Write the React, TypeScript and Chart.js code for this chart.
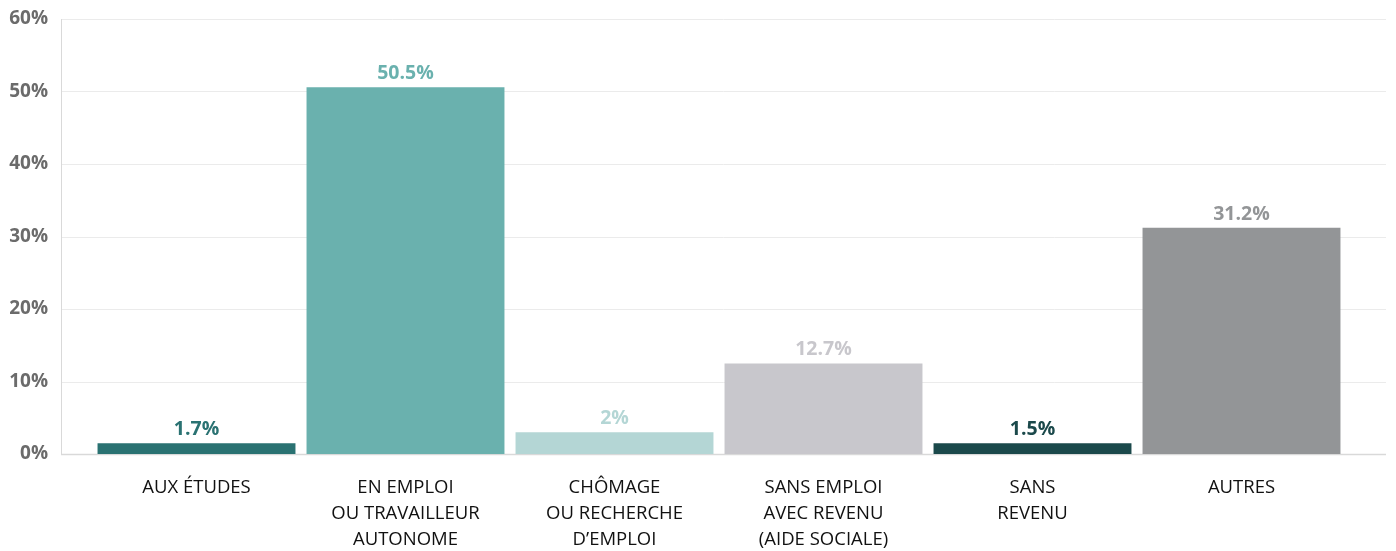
import React, { useEffect, useRef } from "react";
import { Chart, registerables } from "chart.js";

Chart.register(...registerables);

const categories: string[][] = [
  ["AUX ÉTUDES"],
  ["EN EMPLOI", "OU TRAVAILLEUR", "AUTONOME"],
  ["CHÔMAGE", "OU RECHERCHE", "D’EMPLOI"],
  ["SANS EMPLOI", "AVEC REVENU", "(AIDE SOCIALE)"],
  ["SANS", "REVENU"],
  ["AUTRES"],
];
const barValues: number[] = [1.5, 50.6, 3, 12.5, 1.5, 31.2];
const valueLabels: string[] = ["1.7%", "50.5%", "2%", "12.7%", "1.5%", "31.2%"];
const barColors: string[] = ["#2a7272", "#6ab1ae", "#b4d6d5", "#c8c7cc", "#1b494b", "#939597"];
const labelColors: string[] = ["#2a7272", "#6ab1ae", "#b4d6d5", "#c8c7cc", "#1b494b", "#939597"];
const yTicks: number[] = [0, 10, 20, 30, 40, 50, 60];

const FONT = "'Open Sans', 'Noto Sans', sans-serif";

const gridPlugin = {
  id: "customGrid",
  beforeDatasetsDraw(chart: any) {
    const { ctx, scales } = chart;
    const y = scales.y;
    const left = 61;
    const right = 1386;
    ctx.save();
    yTicks.forEach((v) => {
      const py = Math.round(y.getPixelForValue(v)) + 0.5;
      ctx.strokeStyle = v === 0 ? "#d9d9d9" : "#ebebeb";
      ctx.lineWidth = v === 0 ? 1.5 : 1;
      ctx.beginPath();
      ctx.moveTo(left, py);
      ctx.lineTo(right, py);
      ctx.stroke();
    });
    ctx.strokeStyle = "#d9d9d9";
    ctx.lineWidth = 1;
    ctx.beginPath();
    ctx.moveTo(left + 0.5, Math.round(y.getPixelForValue(60)));
    ctx.lineTo(left + 0.5, Math.round(y.getPixelForValue(0)) + 1);
    ctx.stroke();
    ctx.restore();
  },
};

const labelPlugin = {
  id: "valueLabels",
  afterDatasetsDraw(chart: any) {
    const { ctx } = chart;
    const meta = chart.getDatasetMeta(0);
    ctx.save();
    ctx.font = `bold 19.5px ${FONT}`;
    ctx.textAlign = "center";
    ctx.textBaseline = "alphabetic";
    meta.data.forEach((bar: any, i: number) => {
      ctx.fillStyle = labelColors[i];
      ctx.fillText(valueLabels[i], bar.x, bar.y - 8);
    });
    ctx.restore();
  },
};

export default function App() {
  const ref = useRef<HTMLCanvasElement | null>(null);
  useEffect(() => {
    if (!ref.current) return;
    const chart = new Chart(ref.current, {
      type: "bar",
      data: {
        labels: categories,
        datasets: [
          {
            data: barValues,
            backgroundColor: barColors,
            borderWidth: 0,
            categoryPercentage: 0.947,
            barPercentage: 1,
          },
        ],
      },
      options: {
        animation: false,
        responsive: false,
        maintainAspectRatio: false,
        layout: { padding: { top: 19, right: 50, bottom: 0, left: 0 } },
        plugins: { legend: { display: false }, tooltip: { enabled: false } },
        scales: {
          x: {
            grid: { display: false, drawTicks: false },
            border: { display: false },
            ticks: {
              color: "#111111",
              font: { family: FONT, size: 18.5, lineHeight: 1.4 },
              padding: 21,
              maxRotation: 0,
              autoSkip: false,
            },
            afterFit: (s: any) => {
              s.height = 97;
              s.paddingLeft = 0;
              s.paddingRight = 0;
              s.paddingTop = 0;
              s.paddingBottom = 0;
            },
          },
          y: {
            min: 0,
            max: 60,
            grid: { display: false, drawTicks: false },
            border: { display: false },
            ticks: {
              stepSize: 10,
              color: "#6b6b6b",
              font: { family: FONT, size: 19, weight: "bold" },
              padding: 44,
              callback: (v: any) => `${v}%`,
            },
            afterFit: (s: any) => {
              s.width = 92;
              s.paddingTop = 0;
              s.paddingBottom = 0;
              s.paddingLeft = 0;
              s.paddingRight = 0;
            },
          },
        },
      },
      plugins: [gridPlugin, labelPlugin],
    });
    return () => chart.destroy();
  }, []);
  return (
    <div style={{ position: "fixed", left: 0, top: 0, width: 1396, height: 551, background: "#fff" }}>
      <canvas ref={ref} width={1396} height={551} style={{ width: 1396, height: 551 }} />
    </div>
  );
}
